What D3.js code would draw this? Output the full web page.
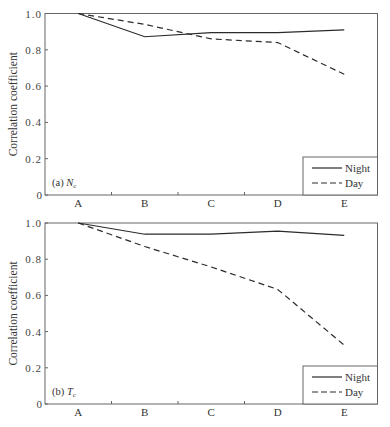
<!DOCTYPE html>
<html>
<head>
<meta charset="utf-8">
<script src="https://cdn.jsdelivr.net/npm/d3@7"></script>
<style>
  body { margin: 0; background: #fff; }
  svg { font-family: "Liberation Serif", "DejaVu Serif", serif; }
</style>
</head>
<body>
<div id="chart"></div>
<script>
// categories and series
const categories = ['A', 'B', 'C', 'D', 'E'];
const yTicks = [0, 0.2, 0.4, 0.6, 0.8, 1.0];
const neNight = [1.0, 0.872, 0.895, 0.895, 0.91];
const neDay = [1.0, 0.94, 0.86, 0.84, 0.665];
const tcNight = [1.0, 0.938, 0.938, 0.955, 0.932];
const tcDay = [1.0, 0.87, 0.757, 0.633, 0.325];
const seriesNames = ['Night', 'Day'];

const width = 390, height = 427;
const svg = d3.select('#chart').append('svg')
    .attr('width', width)
    .attr('height', height);

const ink = '#2b2b2b';
const frame = '#666';

//one panel
function drawPanel(top, bottom, night, day, letter, sym) {
    let x = d3.scaleBand().domain(categories).range([45, 377.5]);
    let y = d3.scaleLinear().domain([0, 1]).range([bottom, top]);
    let g = svg.append('g');

    // frame
    g.append('rect')
        .attr('x', 45).attr('y', top)
        .attr('width', 332.5).attr('height', bottom - top)
        .attr('fill', 'none').attr('stroke', frame).attr('stroke-width', 1);

    // y ticks + labels
    yTicks.forEach(t => {
        g.append('line')
            .attr('x1', 45).attr('x2', 48)
            .attr('y1', y(t)).attr('y2', y(t))
            .attr('stroke', frame);
        g.append('text')
            .attr('x', 42).attr('y', y(t) + 4)
            .attr('text-anchor', 'end')
            .attr('font-size', 11).attr('fill', '#444')
            .attr('letter-spacing', t === 0 ? 0 : 1)
            .text(t === 0 ? '0' : d3.format('.1f')(t));
    });

    // x ticks at band edges, pointing inward
    categories.slice(1).forEach(c => {
        g.append('line')
            .attr('x1', x(c)).attr('x2', x(c))
            .attr('y1', bottom).attr('y2', bottom - 3)
            .attr('stroke', frame);
    });
    categories.forEach(c => {
        g.append('text')
            .attr('x', x(c) + x.bandwidth() / 2).attr('y', bottom + 12)
            .attr('text-anchor', 'middle')
            .attr('font-size', 11).attr('fill', '#333')
            .text(c);
    });

    let line = d3.line()
        .x((d, i) => x(categories[i]) + x.bandwidth() / 2)
        .y(d => y(d));

    g.append('path').datum(night)
        .attr('d', line).attr('fill', 'none')
        .attr('stroke', ink).attr('stroke-width', 1.2);
    g.append('path').datum(day)
        .attr('d', line).attr('fill', 'none')
        .attr('stroke', ink).attr('stroke-width', 1.2)
        .attr('stroke-dasharray', '6,4');

    // y title
    g.append('text')
        .attr('transform', `translate(17,${(top + bottom) / 2}) rotate(-90)`)
        .attr('text-anchor', 'middle')
        .attr('font-size', 11.5).attr('fill', '#333')
        .text('Correlation coefficient');

    // panel tag
    let tag = g.append('text')
        .attr('x', 52).attr('y', bottom - 9)
        .attr('font-size', 10.5).attr('fill', '#333');
    tag.append('tspan').text('(' + letter + ') ');
    tag.append('tspan').attr('font-style', 'italic').text(sym);
    tag.append('tspan').attr('font-size', 7).attr('dy', 2).text('c');

    // legend
    let lx = 303, ly = bottom - 38;
    g.append('rect')
        .attr('x', lx).attr('y', ly)
        .attr('width', 377.5 - lx).attr('height', 38)
        .attr('fill', '#fff').attr('stroke', frame);
    seriesNames.forEach((name, i) => {
        let yy = ly + 11 + i * 15;
        g.append('line')
            .attr('x1', lx + 9).attr('x2', lx + 39)
            .attr('y1', yy).attr('y2', yy)
            .attr('stroke', ink).attr('stroke-width', 1.2)
            .attr('stroke-dasharray', i === 1 ? '6,3' : null);
        g.append('text')
            .attr('x', lx + 42).attr('y', yy + 4)
            .attr('font-size', 11).attr('fill', '#333')
            .text(name);
    });
}

drawPanel(13.5, 195, neNight, neDay, 'a', 'N');
drawPanel(223, 404, tcNight, tcDay, 'b', 'T');
</script>
</body>
</html>
